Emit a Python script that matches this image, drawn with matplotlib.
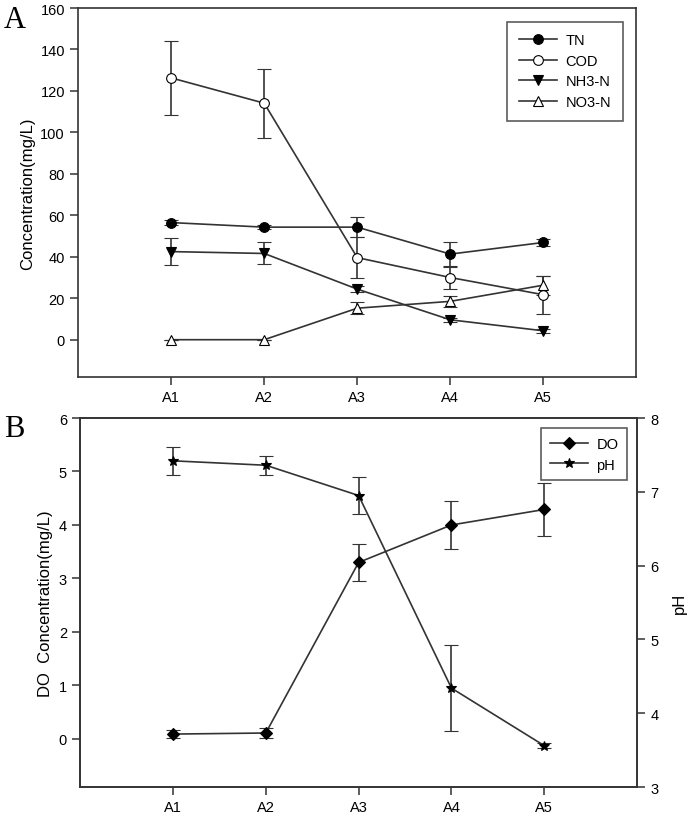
import numpy as np
import matplotlib
matplotlib.use("Agg")
import matplotlib.pyplot as plt
from matplotlib.lines import Line2D

plt.rcParams['font.family'] = ['Liberation Sans', 'DejaVu Sans']

sites = ['A1', 'A2', 'A3', 'A4', 'A5']

# panel A
tn = [56.5, 54.3, 54.3, 41.3, 46.9]
tn_err = [1.2, 1.0, 4.7, 5.8, 1.5]
cod = [126.3, 114.1, 39.6, 30.0, 21.7]
cod_err = [17.7, 16.6, 10.0, 5.3, 9.2]
nh3 = [42.5, 41.6, 24.4, 9.6, 4.3]
nh3_err = [6.6, 5.3, 1.5, 1.0, 1.0]
no3 = [0.0, 0.0, 15.2, 18.5, 26.3]
no3_err = [0.0, 0.0, 3.0, 2.5, 4.5]

# panel B
do = [0.09, 0.11, 3.30, 4.00, 4.29]
do_err = [0.07, 0.10, 0.34, 0.44, 0.50]
ph = [7.42, 7.36, 6.95, 4.34, 3.56]
ph_err = [0.19, 0.13, 0.25, 0.58, 0.03]

x = np.arange(1, 6)
lc = '#333333'

fig = plt.figure(figsize=(6.91, 8.2), dpi=100)
ax1 = fig.add_axes([0.113, 0.539, 0.808, 0.45])
ax2 = fig.add_axes([0.116, 0.039, 0.806, 0.45])

def series(ax, y, err, marker, fc, ms=7):
    ax.errorbar(x, y, yerr=err, color=lc, ecolor=lc, lw=1.2, elinewidth=1.2,
                capsize=5, capthick=1.2, marker=marker, ms=ms, mfc=fc, mec='black',
                mew=0.8)
    return Line2D([], [], color=lc, lw=1.2, marker=marker, ms=ms, mfc=fc,
                  mec='black', mew=0.8)

hA = [series(ax1, tn, tn_err, 'o', 'black'),
      series(ax1, cod, cod_err, 'o', 'white'),
      series(ax1, nh3, nh3_err, 'v', 'black'),
      series(ax1, no3, no3_err, '^', 'white')]

ax1.set_xlim(0, 6)
ax1.set_ylim(-18, 160)
ax1.set_yticks(np.arange(0, 161, 20))
ax1.set_xticks(x)
ax1.set_xticklabels(sites)
ax1.set_ylabel('Concentration(mg/L)', fontsize=12)
leg = ax1.legend(hA, ['TN', 'COD', 'NH3-N', 'NO3-N'], loc='upper right',
                 fancybox=False, edgecolor='#333333', fontsize=10.5,
                 borderpad=0.8, labelspacing=0.45, handlelength=2.6,
                 handletextpad=0.6, bbox_to_anchor=(0.989, 0.983))
leg.get_frame().set_linewidth(1.2)
fig.text(0.006, 0.975, 'A', fontsize=22, family='Liberation Serif',
         va='center', ha='left')

h1 = series(ax2, do, do_err, 'D', 'black', ms=6.5)
ax3 = ax2.twinx()
h2 = series(ax3, ph, ph_err, '*', 'black', ms=7.5)
ax2.set_xlim(0, 6)
ax2.set_ylim(-0.9, 6)
ax2.set_yticks(np.arange(0, 7, 1))
ax3.set_ylim(3, 8)
ax3.set_yticks(np.arange(3, 9, 1))
ax2.set_xticks(x)
ax2.set_xticklabels(sites)
ax2.set_ylabel('DO  Concentration(mg/L)', fontsize=12)
ax3.set_ylabel('pH', fontsize=12, labelpad=10)
leg2 = ax3.legend([h1, h2], ['DO', 'pH'], loc='upper right', fancybox=False,
                  edgecolor='#333333', fontsize=10.5, borderpad=0.6,
                  labelspacing=0.45, handlelength=2.6, handletextpad=0.6,
                  bbox_to_anchor=(0.995, 0.992))
leg2.get_frame().set_linewidth(1.2)
fig.text(0.006, 0.476, 'B', fontsize=22, family='Liberation Serif',
         va='center', ha='left')

for ax in (ax1, ax2, ax3):
    for s in ax.spines.values():
        s.set_color(lc)
        s.set_linewidth(1.2)
    ax.tick_params(direction='out', length=6, width=1.1, color=lc, labelsize=10.5)

fig.savefig('out.png', dpi=100)
